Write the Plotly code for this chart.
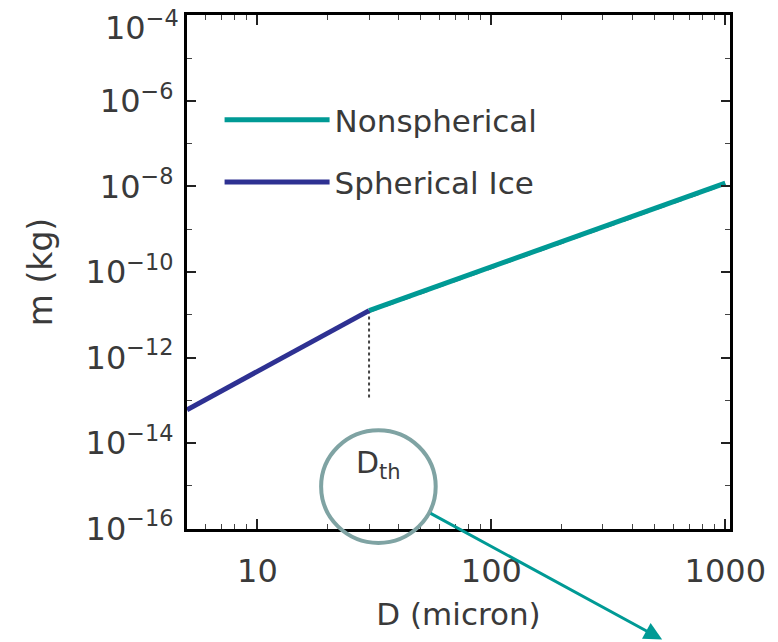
import plotly.graph_objects as go

# Data
sph_D = [5, 30]                 # micron
sph_m = [6.0e-14, 1.25e-11]     # kg
nons_D = [30, 1000]
nons_m = [1.25e-11, 1.2e-8]
ref_D = [30, 1000]
ref_m = [1.15e-11, 1.1e-8]
dth_D = [30, 30]
dth_m = [1.25e-11, 1.0e-13]

x_tickvals = [10, 100, 1000]
x_ticktext = ["10", "100", "1000"]
x_minor = [6, 7, 8, 9, 20, 30, 40, 50, 60, 70, 80, 90,
           200, 300, 400, 500, 600, 700, 800, 900]
y_exps = [-4, -6, -8, -10, -12, -14, -16]
y_minor_exps = [-5, -7, -9, -11, -13, -15]

FONT = "DejaVu Sans"
TXT = "#3a3a3a"

def ylab(e):
    return "10<sup>\u2212%d</sup>" % (-e)

fig = go.Figure()
fig.add_trace(go.Scatter(x=dth_D, y=dth_m, mode="lines",
                         line=dict(color="#444444", width=2, dash="dot"),
                         showlegend=False))
fig.add_trace(go.Scatter(x=ref_D, y=ref_m, mode="lines",
                         line=dict(color="#555555", width=1.5, dash="dash"),
                         showlegend=False))
fig.add_trace(go.Scatter(x=nons_D, y=nons_m, mode="lines", name="Nonspherical",
                         line=dict(color="#009a95", width=5), legendgroup="a"))
fig.add_trace(go.Scatter(x=sph_D, y=sph_m, mode="lines", name="Spherical Ice",
                         line=dict(color="#2e3192", width=5), legendgroup="b"))

fig.update_layout(
    width=778, height=642,
    margin=dict(l=187, r=45, t=13, b=113),
    paper_bgcolor="white", plot_bgcolor="white",
    font=dict(family=FONT, color=TXT, size=30),
    showlegend=True,
    legend=dict(x=0.06, y=0.848, xanchor="left", yanchor="top",
                bgcolor="rgba(0,0,0,0)", itemwidth=105,
                font=dict(size=31, color=TXT, family=FONT),
                tracegroupgap=19, traceorder="grouped"),
)

fig.update_xaxes(type="log", range=[0.699, 3.02],
                 tickvals=x_tickvals, ticktext=x_ticktext,
                 ticks="inside", ticklen=10, tickwidth=1.5, tickcolor="#222",
                 showline=True, linewidth=3, linecolor="black", mirror="ticks",
                 showgrid=False, zeroline=False, ticklabelstandoff=12,
                 minor=dict(tickvals=x_minor, ticks="inside", ticklen=5,
                            tickwidth=1.2, tickcolor="#444", showgrid=False),
                 tickfont=dict(size=32, color=TXT),
                 title=dict(text="D (micron)", font=dict(size=31, color=TXT), standoff=14))

fig.update_yaxes(type="log", range=[-16.01, -3.99],
                 tickvals=[10.0 ** e for e in y_exps],
                 ticktext=["" if e == -4 else ylab(e) for e in y_exps],
                 ticks="inside", ticklen=9, tickwidth=1.5, tickcolor="#222",
                 showline=True, linewidth=3, linecolor="black", mirror="ticks",
                 showgrid=False, zeroline=False, ticklabelstandoff=4,
                 minor=dict(tickvals=[10.0 ** e for e in y_minor_exps],
                            ticks="inside", ticklen=5, tickwidth=1.2,
                            tickcolor="#444", showgrid=False),
                 tickfont=dict(size=32, color=TXT),
                 title=dict(text="m (kg)", font=dict(size=33, color=TXT), standoff=24))

# top tick label (would be clipped at the page edge as a normal tick label)
fig.add_annotation(xref="paper", yref="paper", x=0, y=1, xanchor="right",
                   yanchor="top", xshift=-6, yshift=12, text=ylab(-4),
                   showarrow=False, font=dict(size=32, color=TXT))

# D_th circle callout and arrow
fig.add_shape(type="circle", xref="paper", yref="paper",
              x0=0.247, x1=0.458, y0=-0.027, y1=0.192,
              line=dict(color="#7fa3a3", width=4))
fig.add_annotation(xref="paper", yref="paper", x=0.352, y=0.083,
                   text="D<sub>th</sub>", showarrow=False,
                   font=dict(size=30, color=TXT))
fig.add_annotation(xref="paper", yref="paper", x=0.875, y=-0.215,
                   ax=-233, ay=-127, text="", showarrow=True,
                   arrowhead=2, arrowsize=1.2, arrowwidth=3, arrowcolor="#009a95")

fig.write_html("out.html")
